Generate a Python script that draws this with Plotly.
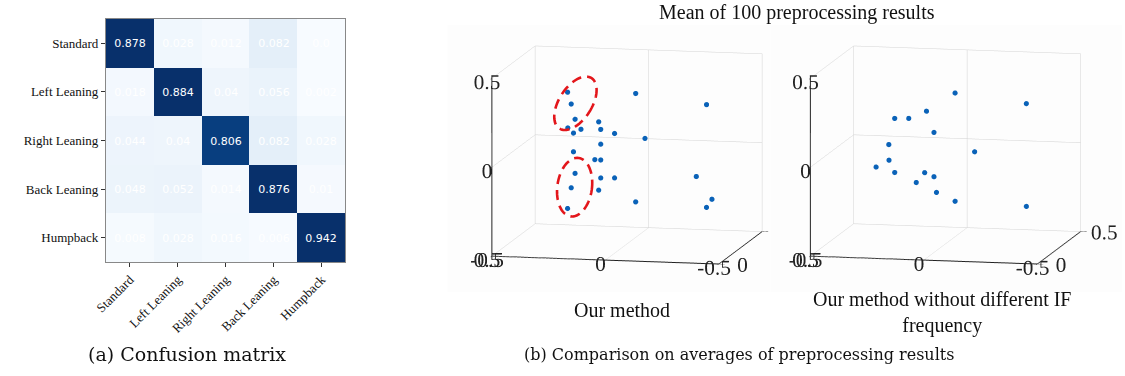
import numpy as np
import plotly.graph_objects as go

W, H = 1125, 376

# ---- confusion matrix -------------------------------------------------------
classes = ["Standard", "Left Leaning", "Right Leaning", "Back Leaning", "Humpback"]
cm_rows = [
    [0.878, 0.028, 0.012, 0.082, 0.0],
    [0.018, 0.884, 0.040, 0.056, 0.002],
    [0.044, 0.040, 0.806, 0.082, 0.028],
    [0.048, 0.052, 0.014, 0.876, 0.010],
    [0.008, 0.028, 0.016, 0.006, 0.942],
]
cm_text = [
    ["0.878", "0.028", "0.012", "0.082", "0.0"],
    ["0.018", "0.884", "0.04", "0.056", "0.002"],
    ["0.044", "0.04", "0.806", "0.082", "0.028"],
    ["0.048", "0.052", "0.014", "0.876", "0.01"],
    ["0.008", "0.028", "0.016", "0.006", "0.942"],
]

# ---- mean preprocessing results (x, y, z) -----------------------------------
ours_x = [0.262, 0.246, 0.229, 0.261, 0.236, 0.203, 0.125, 0.116, 0.055, -0.038,
          -0.079, -0.350, 0.116, 0.236, 0.142, 0.116, 0.229, 0.116, 0.055, 0.246,
          0.125, 0.262, -0.038, -0.305, -0.374, -0.350]
ours_y = [0.25] * 26
ours_z = [0.342, 0.276, 0.191, 0.141, 0.113, 0.136, 0.181, 0.139, 0.119, 0.348,
          0.097, 0.299, 0.056, 0.008, -0.032, -0.033, -0.113, -0.134, -0.131, -0.195,
          -0.203, -0.312, -0.262, -0.107, -0.232, -0.279]

noif_x = [-0.042, -0.356, 0.084, 0.224, 0.162, 0.051, 0.250, -0.128, 0.249, 0.306,
          0.224, 0.092, 0.051, 0.129, 0.040, -0.042, -0.356]
noif_y = [0.25] * 17
noif_z = [0.351, 0.305, 0.243, 0.196, 0.199, 0.125, 0.048, 0.024, -0.040, -0.081,
          -0.108, -0.103, -0.124, -0.160, -0.212, -0.258, -0.273]

x_range = [0.5, -0.5]      # drawn high-to-low, left to right
depth_range = [0, 0.5]
z_range = [-0.5, 0.5]
xy_ticks = [-0.5, 0, 0.5]
xy_ticktext = ["-0.5", "0", "0.5"]
depth_ticks = [0, 0.5]
depth_ticktext = ["0", "0.5"]

BLUES = [[0.0, "rgb(247,251,255)"], [0.125, "rgb(222,235,247)"], [0.25, "rgb(198,219,239)"],
         [0.375, "rgb(158,202,225)"], [0.5, "rgb(107,174,214)"], [0.625, "rgb(66,146,198)"],
         [0.75, "rgb(33,113,181)"], [0.875, "rgb(8,81,156)"], [1.0, "rgb(8,48,107)"]]

SERIF = "Liberation Serif"
DOT = "#0a62b8"

fig = go.Figure()

fig.add_trace(go.Heatmap(
    z=cm_rows, x=classes, y=classes, text=cm_text, texttemplate="%{text}",
    textfont=dict(family="DejaVu Sans", size=11, color="white"),
    colorscale=BLUES, zmin=0, zmax=0.85,
    showscale=False, hoverinfo="skip", xaxis="x", yaxis="y",
))

for name, xs, ys, zs, scene in [("ours", ours_x, ours_y, ours_z, "scene"),
                                ("noif", noif_x, noif_y, noif_z, "scene2")]:
    fig.add_trace(go.Scatter3d(
        x=xs, y=ys, z=zs, mode="markers", name=name, scene=scene,
        marker=dict(size=3, color=DOT, line=dict(width=0)),
        hoverinfo="skip", showlegend=False,
    ))


def px_to_paper(px, py):
    return px / W, 1 - py / H


# heatmap placement
hx0, hx1 = px_to_paper(95, 0)[0], px_to_paper(337, 0)[0]
hy0, hy1 = px_to_paper(0, 262)[1], px_to_paper(0, 19)[1]

fig.update_layout(
    xaxis=dict(domain=[hx0, hx1], tickangle=-45, ticks="outside", ticklen=4,
               tickcolor="#333", showline=True, mirror=True, linecolor="#888",
               tickfont=dict(family=SERIF, size=13, color="#111"), showgrid=False,
               zeroline=False),
    yaxis=dict(domain=[hy0, hy1], autorange="reversed", ticks="outside", ticklen=4,
               tickcolor="#333", showline=True, mirror=True, linecolor="#888",
               tickfont=dict(family=SERIF, size=13, color="#111"), showgrid=False,
               zeroline=False),
)

# 3-D axes shared by both panels
def axis3d(rng, tv, tt, ticklen):
    return dict(range=rng, tickvals=tv, ticktext=tt, title=dict(text=""),
                showgrid=True, gridcolor="#d4d4d4", gridwidth=1, tickangle=0,
                showbackground=False, showline=True, linecolor="#222", linewidth=2,
                ticks="outside", ticklen=ticklen, tickcolor="#222", zeroline=False,
                showspikes=False, tickfont=dict(family=SERIF, size=16, color="#222"))

# orthographic view from slightly right of and above the front face
EYE_DIST = 4.0
camera = dict(eye=dict(x=0.2075 * EYE_DIST, y=-0.965 * EYE_DIST, z=0.1612 * EYE_DIST),
              up=dict(x=0, y=0, z=1), center=dict(x=0, y=0, z=0),
              projection=dict(type="orthographic"))

ZOOM = 1.72

def scene_cfg(cx, depth_text):
    half_w, cy, half_h = 184, 155, 135
    x0, y1 = px_to_paper(cx - half_w, cy - half_h)
    x1, y0 = px_to_paper(cx + half_w, cy + half_h)
    return dict(domain=dict(x=[max(x0, 0), min(x1, 1)], y=[y0, y1]),
                xaxis=axis3d(x_range, xy_ticks, xy_ticktext, 6),
                yaxis=axis3d(depth_range, depth_ticks, depth_text, 6),
                zaxis=axis3d(z_range, xy_ticks, xy_ticktext, 6),
                aspectmode="manual",
                aspectratio=dict(x=1 * ZOOM, y=0.886 * ZOOM, z=0.776 * ZOOM),
                camera=camera, bgcolor="rgba(0,0,0,0)", dragmode=False)

# the right-hand view overlaps the far depth label of the left one
fig.update_layout(scene=scene_cfg(621.5, ["0", ""]),
                  scene2=scene_cfg(946.5, depth_ticktext))

# red dashed ellipses marking the clusters
def ellipse_path(cx, cy, a, b, tilt_deg):
    t = np.linspace(0, 2 * np.pi, 73)
    th = np.deg2rad(tilt_deg)
    ex = b * np.cos(t)
    ey = -a * np.sin(t)
    px = cx + ex * np.cos(th) - ey * np.sin(th)
    py = cy + ex * np.sin(th) + ey * np.cos(th)
    pts = [px_to_paper(u, v) for u, v in zip(px, py)]
    return "M " + " L ".join(f"{u:.5f},{v:.5f}" for u, v in pts) + " Z"

shapes = []
for cx, cy, a, b, tilt in [(569.5, 103.3, 30, 16.5, 33), (568.7, 187.2, 29.5, 17.5, 8)]:
    shapes.append(dict(type="path", xref="paper", yref="paper", layer="above",
                       path=ellipse_path(cx, cy, a, b, tilt),
                       line=dict(color="#e3161b", width=2.6, dash="10px,6px")))

# faint panel backgrounds of the two 3-D views
for x0, x1 in [(440, 767), (767, 1122)]:
    (px0, py1), (px1, py0) = px_to_paper(x0, 25), px_to_paper(x1, 292)
    shapes.append(dict(type="rect", xref="paper", yref="paper", layer="below",
                       x0=px0, x1=px1, y0=py0, y1=py1,
                       fillcolor="rgba(0,0,0,0.008)", line=dict(width=0)))

fig.update_layout(shapes=shapes)

def label(text, px, py, size, family=SERIF):
    x, y = px_to_paper(px, py)
    return dict(text=text, x=x, y=y, xref="paper", yref="paper", showarrow=False,
                xanchor="center", yanchor="middle",
                font=dict(family=family, size=size, color="#111"))

fig.update_layout(annotations=[
    label("Mean of 100 preprocessing results", 793, 13, 20),
    label("Our method", 617, 310, 20),
    label("Our method without different IF<br>frequency", 940, 312, 20),
    label("(a) Confusion matrix", 177, 354, 19, "DejaVu Serif"),
    label("(b) Comparison on averages of preprocessing results", 735, 354, 16, "DejaVu Serif"),
])

fig.update_layout(width=W, height=H, margin=dict(l=0, r=0, t=0, b=0),
                  paper_bgcolor="white", plot_bgcolor="white", showlegend=False)

fig.write_html("out.html", config=dict(displayModeBar=False))
